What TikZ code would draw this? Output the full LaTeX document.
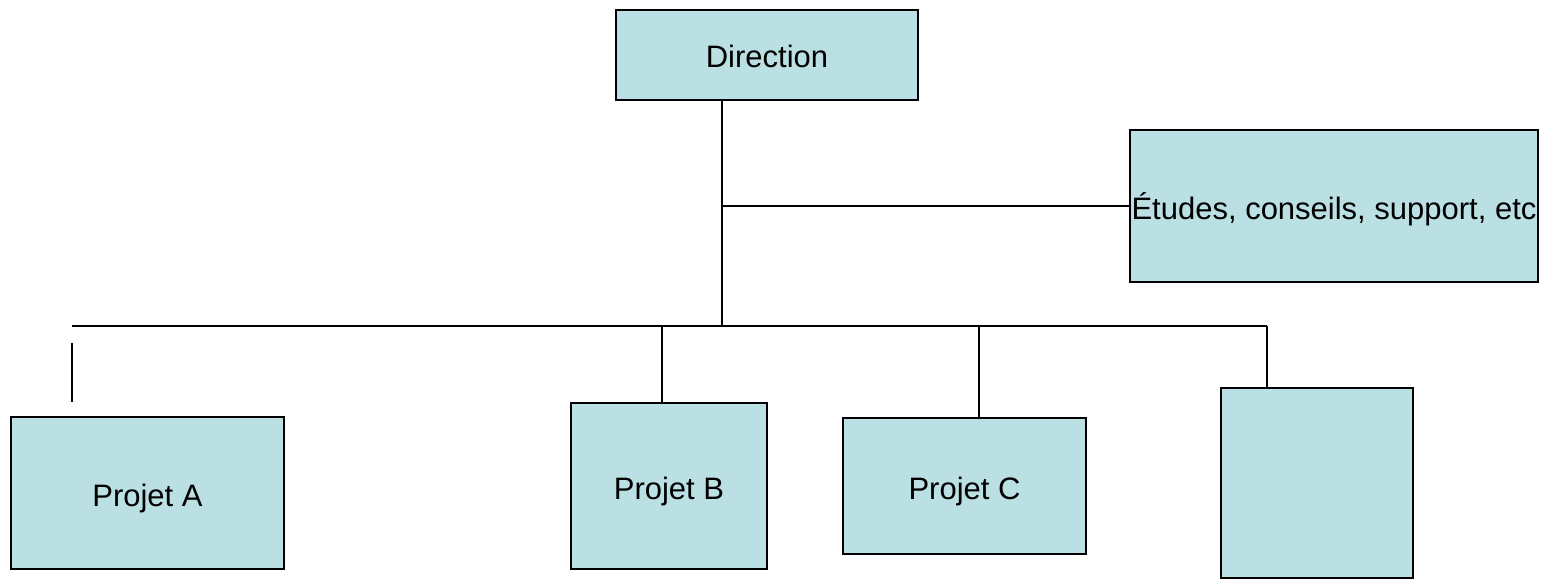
\documentclass[tikz,border=0pt]{standalone}
\usepackage{fontspec}
\setmainfont{Liberation Sans}
\begin{document}
\begin{tikzpicture}[x=1pt,y=-1pt,
  unit/.style={draw=black, line width=2.6pt, fill=boxfill, inner sep=0pt,
    text height=26pt, text depth=0pt,
    font=\fontsize{31}{37}\selectfont},
  link/.style={draw=black, line width=2.4pt}]
\definecolor{boxfill}{HTML}{BBE0E3}
\useasboundingbox (0,0) rectangle (1557,580);

% boxes
\node[unit, minimum width=302pt, minimum height=90pt] (dir) at (767,55) {Direction};
\node[unit, minimum width=408pt, minimum height=152pt] (etu) at (1334,206) {Études, conseils, support, etc};
\node[unit, minimum width=273pt, minimum height=152pt] (pA) at (147.5,493) {Projet A};
\node[unit, minimum width=196pt, minimum height=166pt] (pB) at (669,486) {Projet B};
\node[unit, minimum width=243pt, minimum height=136pt] (pC) at (964.5,486) {Projet C};
\node[unit, minimum width=192pt, minimum height=190pt] (pD) at (1317,483) {};

% trunk and bus
\coordinate (hub) at (722,326);
\coordinate (busL) at (72,326);
\coordinate (busR) at (1267,326);
\coordinate (tB) at (662,326);
\coordinate (tC) at (979,326);
\coordinate (sA1) at (72,343);
\coordinate (sA2) at (72,402);

\draw[link] (hub |- dir.south) -- (hub);
\draw[link] (hub |- etu.west) -- (etu.west);
\draw[link] (busL) -- (busR);
\draw[link] (sA1) -- (sA2);
\draw[link] (tB) -- (tB |- pB.north);
\draw[link] (tC) -- (tC |- pC.north);
\draw[link] (busR) -- (busR |- pD.north);
\end{tikzpicture}
\end{document}
